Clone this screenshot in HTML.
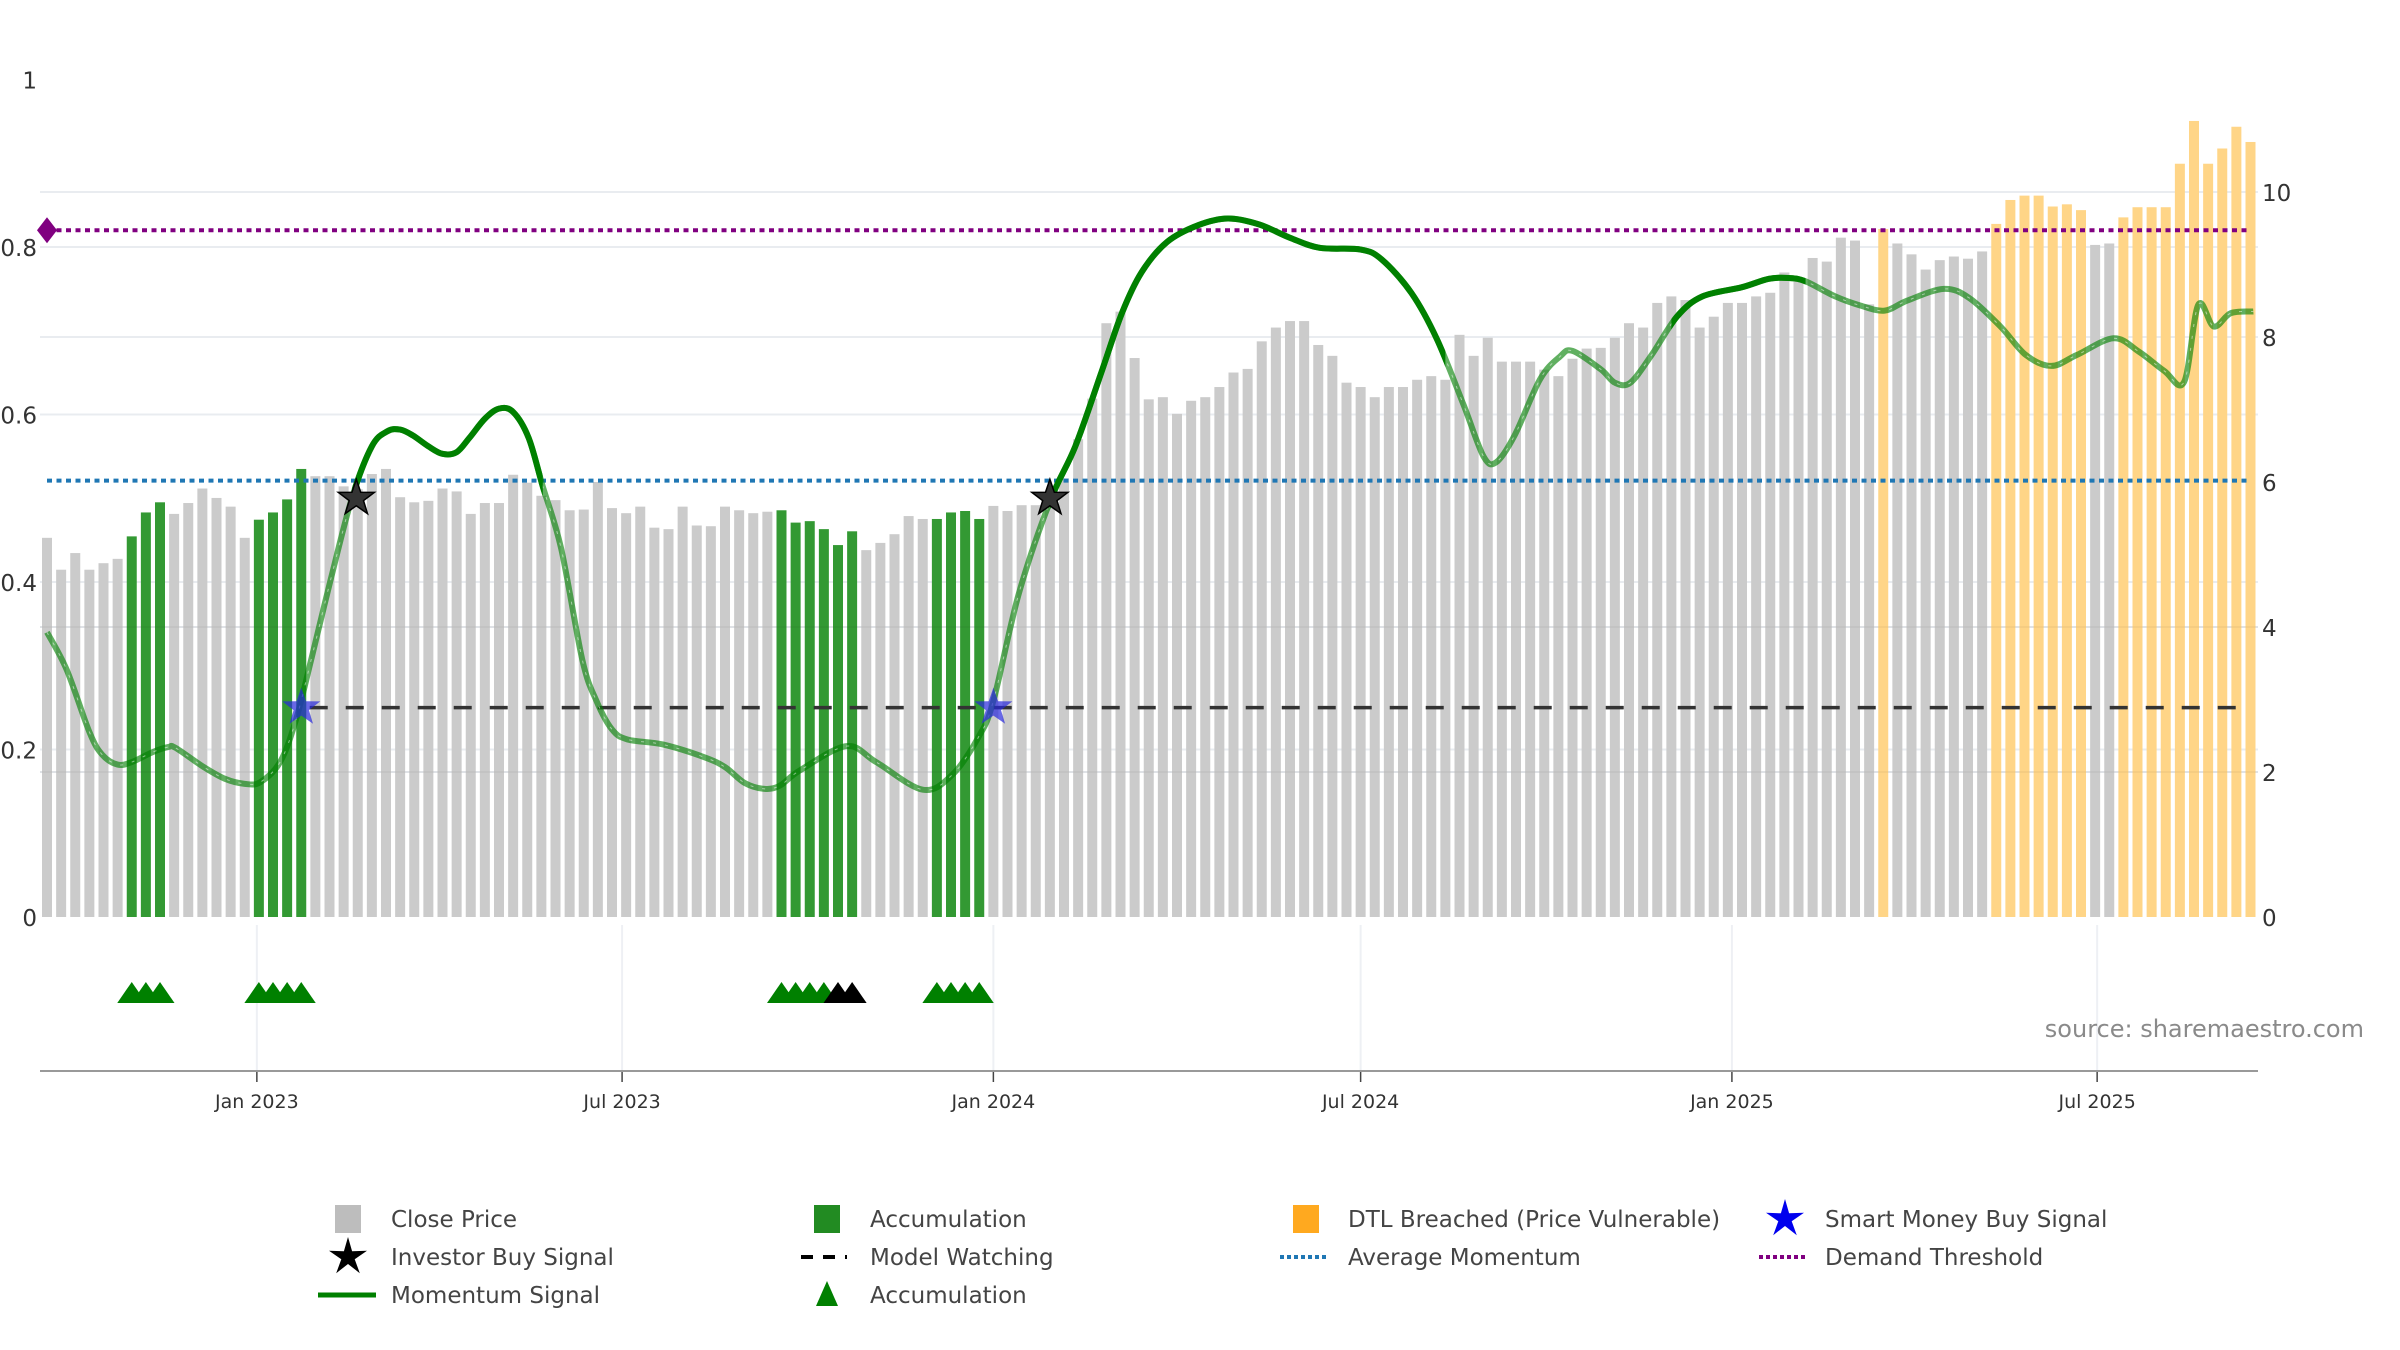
<!DOCTYPE html>
<html><head><meta charset="utf-8"><style>
html,body{margin:0;padding:0;background:#fff;}
svg{display:block;font-family:"DejaVu Sans","Liberation Sans",sans-serif;}
</style></head>
<body>
<svg id="chart" width="2400" height="1350" viewBox="0 0 2400 1350" xmlns="http://www.w3.org/2000/svg">
<defs>
<clipPath id="strongClip"></clipPath>
</defs>
<g id="grid"></g>
<g id="bars"></g>
<g id="grid2"></g>
<g id="lines"></g>
<g id="mom"></g>
<g id="marks"></g>
<g id="axes"></g>
<g id="legend"></g>
<text x="2364" y="1037" text-anchor="end" font-size="24" fill="#8a8a8a">source: sharemaestro.com</text>
</svg>
<script>
// ---- data ----
const startDate = "2022-09-19";
const closePrices = [5.23,4.79,5.02,4.79,4.88,4.94,5.25,5.58,5.72,5.56,5.71,5.91,5.78,5.66,5.23,5.48,5.58,5.76,6.18,6.08,
6.08,5.94,5.9,6.11,6.18,5.79,5.72,5.74,5.91,5.87,5.56,5.71,5.71,6.1,5.99,5.81,5.75,5.61,5.62,6.0,
5.64,5.57,5.66,5.37,5.35,5.66,5.4,5.39,5.66,5.61,5.57,5.59,5.61,5.44,5.46,5.35,5.13,5.32,5.06,5.16,
5.28,5.53,5.49,5.49,5.58,5.6,5.49,5.67,5.6,5.68,5.68,5.72,6.05,6.59,7.15,8.19,8.35,7.71,7.14,7.17,
6.94,7.12,7.17,7.31,7.51,7.56,7.94,8.13,8.22,8.22,7.89,7.74,7.37,7.31,7.17,7.31,7.31,7.41,7.46,7.41,
8.03,7.74,7.99,7.66,7.66,7.66,7.55,7.46,7.7,7.84,7.85,7.99,8.19,8.13,8.47,8.56,8.51,8.13,8.28,8.47,
8.47,8.56,8.61,8.89,8.8,9.09,9.04,9.37,9.33,8.45,9.49,9.29,9.14,8.93,9.06,9.11,9.08,9.18,9.56,9.89,
9.95,9.95,9.8,9.83,9.75,9.27,9.29,9.65,9.79,9.79,9.79,10.39,10.98,10.39,10.6,10.9,10.69];
const accumulationIdx = [6,7,8,15,16,17,18,52,53,54,55,56,57,63,64,65,66];
const dtlIdx = [130,138,139,140,141,142,143,144,147,148,149,150,151,152,153,154,155,156];
const momIdx = [0,1.4,3,3.9,5,6,7.5,8.6,9.1,11.1,12.6,14,15.1,16.5,17.6,18.7,20.1,21.6,23,24.1,25,25.9,27,28,29,29.9,31,32,33,34.1,35.1,36.4,37.9,38.9,40,41.1,43.6,46.5,48,49.4,50.8,51.9,53.3,56.6,58.7,62,64.1,65.95,67,68.8,71,72.8,74.6,76.1,77.5,79.3,81.5,83.6,85.8,88,90.1,93,94.5,96.6,98.4,100.3,101.7,102.6,103.9,105.7,107.1,108,110,111,112.1,113.6,115.4,117.2,120,121.9,123.3,124.5,126.6,128.4,130.1,131.7,134.3,136.1,138.3,140.1,141.9,143.7,146.3,148.1,149.9,151.3,152.3,153.4,154.6,156.2];
const momVal = [0.34,0.295,0.221,0.194,0.182,0.185,0.197,0.203,0.202,0.179,0.165,0.159,0.161,0.185,0.234,0.307,0.404,0.501,0.562,0.58,0.582,0.575,0.562,0.553,0.555,0.572,0.595,0.607,0.603,0.572,0.514,0.44,0.307,0.258,0.224,0.212,0.206,0.191,0.179,0.16,0.153,0.157,0.175,0.204,0.185,0.152,0.17,0.215,0.258,0.386,0.496,0.562,0.648,0.721,0.77,0.806,0.826,0.834,0.827,0.811,0.799,0.797,0.785,0.745,0.69,0.611,0.55,0.543,0.575,0.642,0.669,0.676,0.654,0.638,0.638,0.671,0.717,0.741,0.752,0.762,0.763,0.759,0.741,0.73,0.724,0.736,0.75,0.739,0.705,0.671,0.658,0.671,0.691,0.675,0.652,0.639,0.731,0.705,0.721,0.723];
const strongStart = [21.6,71,115];
const strongEnd = [35.1,99,124.5];
const investorIdx = [21.9,71];
const investorVal = [0.5,0.5];
const smartIdx = [18,67];
const smartVal = [0.25,0.25];
const watchStartIdx = 18.6;
const watchLevel = 0.25;
const avgMomentum = 0.521;
const demandThreshold = 0.82;
const leftTicks = [0,0.2,0.4,0.6,0.8,1];
const rightTicks = [0,2,4,6,8,10];
const xTickDates = ["2023-01-01","2023-07-01","2024-01-01","2024-07-01","2025-01-01","2025-07-01"];
const xTickLabels = ["Jan 2023","Jul 2023","Jan 2024","Jul 2024","Jan 2025","Jul 2025"];

// ---- scales ----
const NS = "http://www.w3.org/2000/svg";
const X0 = 47, STEP = 14.125, PL = 40, PR = 2258, Y0 = 917;
function xIdx(i){ return X0 + STEP*i; }
function xDate(d){ return xIdx((Date.parse(d) - Date.parse(startDate))/(7*86400000)); }
function yL(v){ return Y0 - v*837.5; }
function yR(v){ return Y0 - v*72.5; }
function mk(tag, attrs, parent){ const e=document.createElementNS(NS,tag); for(const k in attrs) e.setAttribute(k,attrs[k]); parent.appendChild(e); return e; }
const G = id => document.getElementById(id);

// grid
[0.2,0.4,0.6,0.8].forEach(v=>{
  const l = mk('line',{x1:PL,x2:PR,y1:yL(v),y2:yL(v),stroke:'#e9ecf0','stroke-width':2},G('grid'));
  
  
});
[2,4,8,10].forEach(v=>{
  const l = mk('line',{x1:PL,x2:PR,y1:yR(v),y2:yR(v),stroke:'#e9ecf0','stroke-width':2},G('grid'));
  
  
});
xTickDates.forEach(d=>{
  const l = mk('line',{x1:xDate(d),x2:xDate(d),y1:925,y2:1071,stroke:'#eef0f4','stroke-width':2},G('grid'));
  
  
});

// bars
closePrices.forEach((v,i)=>{
  let fill = '#cbcbcb';
  if (accumulationIdx.includes(i)) fill = '#339933';
  if (dtlIdx.includes(i)) fill = '#ffd587';
  const r = mk('rect',{x:xIdx(i)-5,y:yR(v),width:10,height:Y0-yR(v),fill:fill},G('bars'));
  
  
});
[2,4].forEach(v=>{
  const l = mk('line',{x1:PL,x2:PR,y1:yR(v),y2:yR(v),stroke:'rgba(0,0,0,0.04)','stroke-width':2},G('grid2'));
  
  
});

// reference lines
const dl = mk('line',{x1:X0,x2:xIdx(156),y1:yL(demandThreshold),y2:yL(demandThreshold),stroke:'#800080','stroke-width':4,'stroke-dasharray':'5 4.5'},G('lines'));


const dm = mk('path',{d:`M${X0-10} ${yL(demandThreshold)} L${X0} ${yL(demandThreshold)-13} L${X0+10} ${yL(demandThreshold)} L${X0} ${yL(demandThreshold)+13}Z`,fill:'#800080'},G('lines'));


const am = mk('line',{x1:X0,x2:xIdx(156),y1:yL(avgMomentum),y2:yL(avgMomentum),stroke:'#1f77b4','stroke-width':4,'stroke-dasharray':'5 4.5'},G('lines'));


const mw = mk('line',{x1:xIdx(watchStartIdx),x2:xIdx(156),y1:yL(watchLevel),y2:yL(watchLevel),stroke:'#333','stroke-width':3.5,'stroke-dasharray':'18 18'},G('lines'));



// momentum curve (Catmull-Rom)
const pts = momIdx.map((d,i)=>[xIdx(d), yL(momVal[i])]);
let dpath = `M${pts[0][0]} ${pts[0][1]}`;
for (let i=0;i<pts.length-1;i++){
  const p0=pts[Math.max(0,i-1)],p1=pts[i],p2=pts[i+1],p3=pts[Math.min(pts.length-1,i+2)];
  const c1=[p1[0]+(p2[0]-p0[0])/6,p1[1]+(p2[1]-p0[1])/6];
  const c2=[p2[0]-(p3[0]-p1[0])/6,p2[1]-(p3[1]-p1[1])/6];
  dpath += ` C${c1[0]} ${c1[1]} ${c2[0]} ${c2[1]} ${p2[0]} ${p2[1]}`;
}
const clip = document.getElementById('strongClip');
strongStart.forEach((s,i)=>{
  mk('rect',{x:xIdx(s),y:0,width:xIdx(strongEnd[i])-xIdx(s),height:1350},clip);
});
const pale = mk('path',{d:dpath,fill:'none',stroke:'rgba(0,128,0,0.62)','stroke-width':6,'stroke-linejoin':'round'},G('mom'));


const dash = mk('path',{d:dpath,fill:'none',stroke:'rgba(255,255,255,0.5)','stroke-width':1,'stroke-dasharray':'3 9'},G('mom'));


const strong = mk('path',{d:dpath,fill:'none',stroke:'#008000','stroke-width':6,'stroke-linejoin':'round','clip-path':'url(#strongClip)'},G('mom'));



// markers
function starPath(cx,cy,R,r){ let s=''; for(let k=0;k<10;k++){ const a=-Math.PI/2+k*Math.PI/5; const rr=k%2?r:R; s+=(k?'L':'M')+(cx+rr*Math.cos(a)).toFixed(1)+' '+(cy+rr*Math.sin(a)).toFixed(1);} return s+'Z'; }
smartIdx.forEach((d,i)=>{
  const s = mk('path',{d:starPath(xIdx(d),yL(smartVal[i]),20,8),fill:'rgba(40,40,220,0.7)'},G('marks'));
  
  
});
investorIdx.forEach((d,i)=>{
  const s = mk('path',{d:starPath(xIdx(d),yL(investorVal[i]),19,7.5),fill:'#333',stroke:'#000','stroke-width':1.5},G('marks'));
  
  
});
accumulationIdx.forEach(i=>{
  const cx = xIdx(i);
  const black = (i===56||i===57);
  const t = mk('path',{d:`M${cx-14.5} 1003 L${cx} 982 L${cx+14.5} 1003Z`,fill:black?'#000':'#008000'},G('marks'));
  
  
});

// axes
const ax = mk('line',{x1:PL,x2:PR,y1:1071,y2:1071,stroke:'#999','stroke-width':2},G('axes'));


xTickDates.forEach((d,i)=>{
  const tk = mk('line',{x1:xDate(d),x2:xDate(d),y1:1072,y2:1082,stroke:'#444','stroke-width':1.5},G('axes'));
  
  
  const t = mk('text',{x:xDate(d),y:1108,'text-anchor':'middle','font-size':19,fill:'#333'},G('axes'));
  t.textContent = xTickLabels[i];
  
  
});
leftTicks.forEach(v=>{
  const t = mk('text',{x:37,y:yL(v)+9,'text-anchor':'end','font-size':23,fill:'#333'},G('axes'));
  t.textContent = String(v);
  
  
});
rightTicks.forEach(v=>{
  const t = mk('text',{x:2262,y:yR(v)+9,'text-anchor':'start','font-size':23,fill:'#333'},G('axes'));
  t.textContent = String(v);
  
  
});

// legend
const legendLabels = ["Close Price","Accumulation","DTL Breached (Price Vulnerable)","Smart Money Buy Signal","Investor Buy Signal","Model Watching","Average Momentum","Demand Threshold","Momentum Signal","Accumulation"];
const LX = [348,827,1306,1785], TX=[391,870,1348,1825], LY=[1219,1257,1295];
const L = G('legend');
function legText(i,col,row){
  const t = mk('text',{x:TX[col],y:LY[row]+8,'font-size':23,fill:'#444'},L);
  t.textContent = legendLabels[i];
  
  
}
let e;
e = mk('rect',{x:LX[0]-13,y:LY[0]-14,width:26,height:28,fill:'#bdbdbd'},L);


legText(0,0,0);
e = mk('rect',{x:LX[1]-13,y:LY[0]-14,width:26,height:28,fill:'#228b22'},L);


legText(1,1,0);
e = mk('rect',{x:LX[2]-13,y:LY[0]-14,width:26,height:28,fill:'#ffa91f'},L);


legText(2,2,0);
e = mk('path',{d:starPath(LX[3],LY[0],20,7),fill:'#0000ee'},L);


legText(3,3,0);
e = mk('path',{d:starPath(LX[0],LY[1],20,7),fill:'#000'},L);


legText(4,0,1);
e = mk('line',{x1:LX[1]-26,x2:LX[1]+20,y1:LY[1],y2:LY[1],stroke:'#000','stroke-width':4,'stroke-dasharray':'12 10'},L);


legText(5,1,1);
e = mk('line',{x1:LX[2]-26,x2:LX[2]+20,y1:LY[1],y2:LY[1],stroke:'#1f77b4','stroke-width':4,'stroke-dasharray':'4 3'},L);


legText(6,2,1);
e = mk('line',{x1:LX[3]-26,x2:LX[3]+20,y1:LY[1],y2:LY[1],stroke:'#800080','stroke-width':4,'stroke-dasharray':'4 3'},L);


legText(7,3,1);
e = mk('line',{x1:LX[0]-30,x2:LX[0]+28,y1:LY[2],y2:LY[2],stroke:'#008000','stroke-width':5},L);


legText(8,0,2);
e = mk('path',{d:`M${LX[1]-11} ${LY[2]+11} L${LX[1]} ${LY[2]-14} L${LX[1]+11} ${LY[2]+11}Z`,fill:'#008000'},L);


legText(9,1,2);
</script>
</body></html>
